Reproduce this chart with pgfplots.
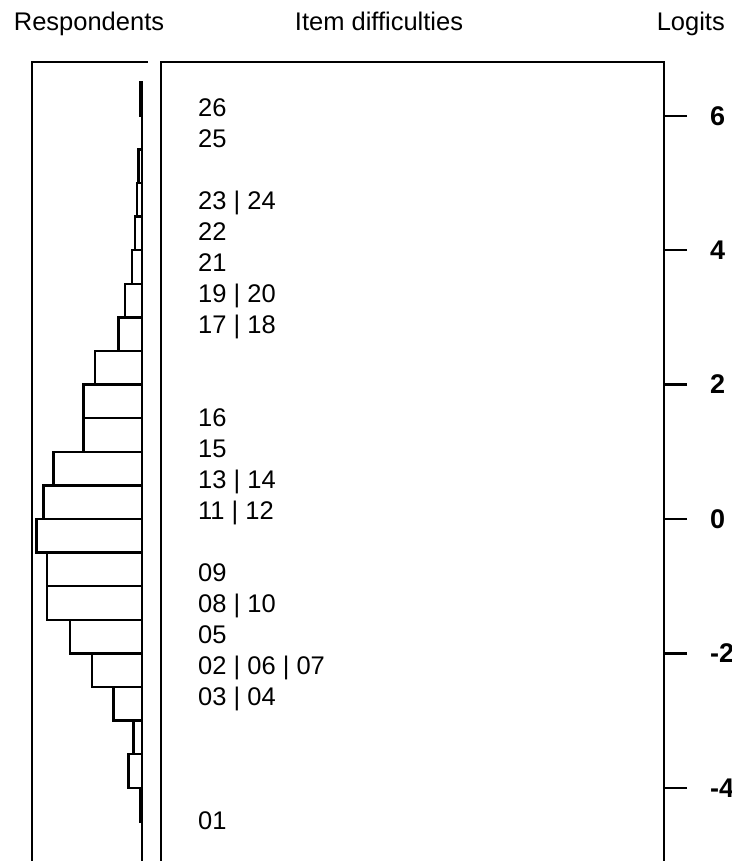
\documentclass[border=0pt]{standalone}
\usepackage{pgfplots}
\pgfplotsset{compat=1.18}
\usepackage{pgfplotstable}
\usepackage{fontspec}
\setmainfont{Liberation Sans}

\pgfplotstableread{
lo count
-5.5 0
-5.0 0
-4.5 1
-4.0 8
-3.5 5
-3.0 17
-2.5 30
-2.0 43
-1.5 57
-1.0 57
-0.5 63
0.0 59
0.5 53
1.0 35
1.5 35
2.0 28
2.5 14
3.0 10
3.5 6
4.0 4
4.5 3
5.0 2
5.5 0
6.0 1
6.5 1
}\persons

\pgfplotstableread[col sep=comma]{
x,y,label
37,6.131,26
37,5.670,25
37,4.747,23 | 24
37,4.286,22
37,3.824,21
37,3.363,19 | 20
37,2.902,17 | 18
37,1.518,16
37,1.057,15
37,0.595,13 | 14
37,0.134,11 | 12
37,-0.789,09
37,-1.250,08 | 10
37,-1.711,05
37,-2.173,02 | 06 | 07
37,-2.634,03 | 04
37,-4.479,01
}\items

\begin{document}
\begin{tikzpicture}[x=1pt,y=1pt]
% Respondents panel
\begin{axis}[
  scale only axis, width=116pt, height=826.6pt,
  at={(90pt,385.7pt)}, anchor=center,
  x dir=reverse, xmin=-3.6, xmax=65.8,
  ymin=-5.5, ymax=6.8,
  hide axis, clip=false,
]
\addplot[xbar interval, draw=black, fill=none, line width=2.4pt]
  table[x=count, y=lo] {\persons};
\end{axis}
\draw[line width=2.6pt] (32,-20) -- (32,799) -- (148,799);

% Item panel
\begin{axis}[
  scale only axis, width=503pt, height=826.6pt,
  at={(412.5pt,385.7pt)}, anchor=center,
  xmin=0, xmax=503, ymin=-5.5, ymax=6.8,
  xtick=\empty,
  ytick={-4,-2,0,2,4,6}, yticklabels={-4,-2,0,2,4,6},
  ytick pos=right, yticklabel pos=right,
  tick align=outside, major tick length=23pt,
  tick style={line width=2.4pt, black},
  axis line style={line width=2.6pt},
  yticklabel style={font=\fontsize{27}{31}\selectfont\bfseries, anchor=west, inner sep=0pt, xshift=23pt},
  clip=false,
]
\addplot[only marks, mark=none,
  nodes near coords, point meta=explicit symbolic,
  every node near coord/.append style={anchor=base west, inner sep=0pt,
    yshift=-9.1pt, font=\fontsize{25.5}{30}\selectfont}]
  table[x=x, y=y, meta=label] {\items};
\end{axis}

% titles
\node[anchor=base, inner sep=0pt, font=\fontsize{25.5}{30}\selectfont] at (89,830.3) {Respondents};
\node[anchor=base, inner sep=0pt, font=\fontsize{25.5}{30}\selectfont] at (379,830.3) {Item difficulties};
\node[anchor=base east, inner sep=0pt, font=\fontsize{25.5}{30}\selectfont] at (725,830.3) {Logits};

\pgfresetboundingbox
\useasboundingbox (0,0) rectangle (731,861);
\end{tikzpicture}
\end{document}
